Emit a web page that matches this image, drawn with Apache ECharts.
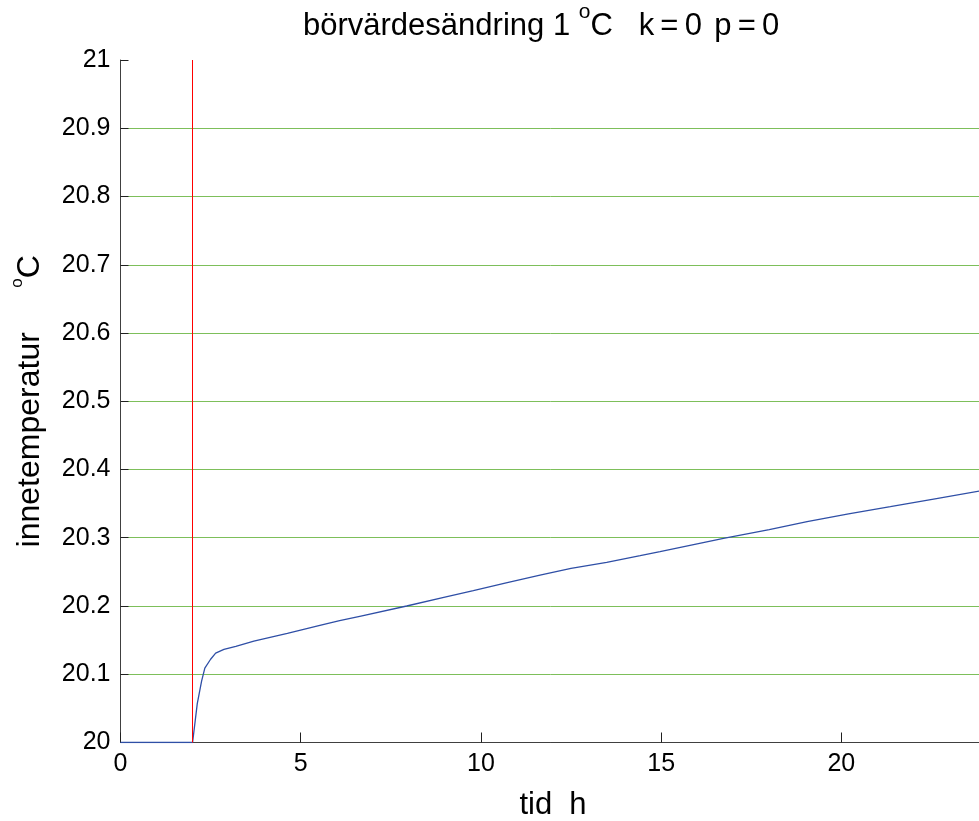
<!DOCTYPE html>
<html>
<head>
<meta charset="utf-8">
<script src="https://cdn.jsdelivr.net/npm/echarts@6/dist/echarts.min.js"></script>
<style>
  html, body { margin: 0; padding: 0; background: #fff; }
  #chart { width: 979px; height: 821px; }
</style>
</head>
<body>
<div id="chart"></div>
<script>
// Indoor temperature after a 1 °C setpoint change (k = 0, p = 0)
const hours = [0, 2, 2.13, 2.25, 2.34, 2.5, 2.64, 2.87, 3.2, 3.7, 4.63, 5.56, 6.08, 6.67,
  7.94, 9.0, 9.79, 10.7, 11.64, 12.5, 13.49, 14.42, 14.97, 16.0, 16.73, 18.0, 19.05,
  20.2, 21.36, 22.6, 24];
const indoorTemp = [20, 20, 20.057, 20.09, 20.109, 20.122, 20.131, 20.1365, 20.141, 20.1487,
  20.160, 20.172, 20.1785, 20.1853, 20.200, 20.213, 20.2225, 20.234, 20.2454, 20.255,
  20.264, 20.2737, 20.2796, 20.291, 20.2992, 20.312, 20.3235, 20.335, 20.3455, 20.357, 20.370];
// moment of the setpoint step (h)
const stepTime = [2];

const FONT = '"Liberation Sans", Arial, Helvetica, sans-serif';
const THIN = '\u2009';

const chart = echarts.init(document.getElementById('chart'), null, { renderer: 'canvas' });

chart.setOption({
  animation: false,
  backgroundColor: '#ffffff',
  title: {
    text: '{a|börvärdesändring 1 }{s|o}{a|C   k' + THIN + '=' + THIN + '0' + THIN + THIN +
          'p' + THIN + '=' + THIN + '0}',
    left: 303,
    top: 11,
    padding: 0,
    textStyle: {
      fontWeight: 'normal',
      rich: {
        a: { fontFamily: FONT, fontSize: 31, lineHeight: 31, fontWeight: 'normal', color: '#000' },
        // superscript: the bottom padding lifts the small "o" above the baseline
        s: { fontFamily: FONT, fontSize: 21, lineHeight: 21, padding: [0, 0, 29, 0], fontWeight: 'normal', color: '#000' }
      }
    }
  },
  grid: { left: 120.5, top: 60, bottom: 78.5, right: -6.5, containLabel: false, outerBoundsMode: 'none' },
  xAxis: {
    type: 'value',
    min: 0,
    max: 24,
    interval: 5,
    name: 'tid  h',
    nameLocation: 'middle',
    nameGap: 47,
    nameTextStyle: { fontFamily: FONT, fontSize: 31, color: '#000', lineHeight: 31 },
    axisLine: { show: true, onZero: false, lineStyle: { color: '#404040', width: 1 } },
    axisTick: { show: true, inside: true, length: 10, lineStyle: { color: '#202020' } },
    axisLabel: { fontFamily: FONT, fontSize: 25, color: '#000', margin: 9, showMaxLabel: false },
    splitLine: { show: false }
  },
  yAxis: {
    type: 'value',
    min: 20,
    max: 21,
    interval: 0.1,
    name: '{a|innetemperatur     }{s|o}{a|C}',
    nameLocation: 'middle',
    nameGap: 61,
    nameRotate: 90,
    nameTextStyle: {
      rich: {
        a: { fontFamily: FONT, fontSize: 32, lineHeight: 32, color: '#000' },
        s: { fontFamily: FONT, fontSize: 17, lineHeight: 17, padding: [0, 0, 25, 0], color: '#000' }
      }
    },
    axisLine: { show: true, lineStyle: { color: '#404040', width: 1 } },
    axisTick: { show: true, inside: true, length: 8, lineStyle: { color: '#202020' } },
    axisLabel: { fontFamily: FONT, fontSize: 25, color: '#000', margin: 10 },
    splitLine: {
      show: true,
      showMinLine: false,
      showMaxLine: false,
      lineStyle: { color: '#7dbf5a', width: 1 }
    }
  },
  series: [{
    type: 'line',
    data: hours.map((h, i) => [h, indoorTemp[i]]),
    showSymbol: false,
    symbol: 'none',
    lineStyle: { color: '#2f4fa6', width: 1.3 },
    z: 3,
    markLine: {
      silent: true,
      symbol: ['none', 'none'],
      label: { show: false },
      lineStyle: { color: '#ff0000', width: 1, type: 'solid', opacity: 1 },
      data: stepTime.map(t => ({ xAxis: t }))
    }
  }]
});
</script>
</body>
</html>
